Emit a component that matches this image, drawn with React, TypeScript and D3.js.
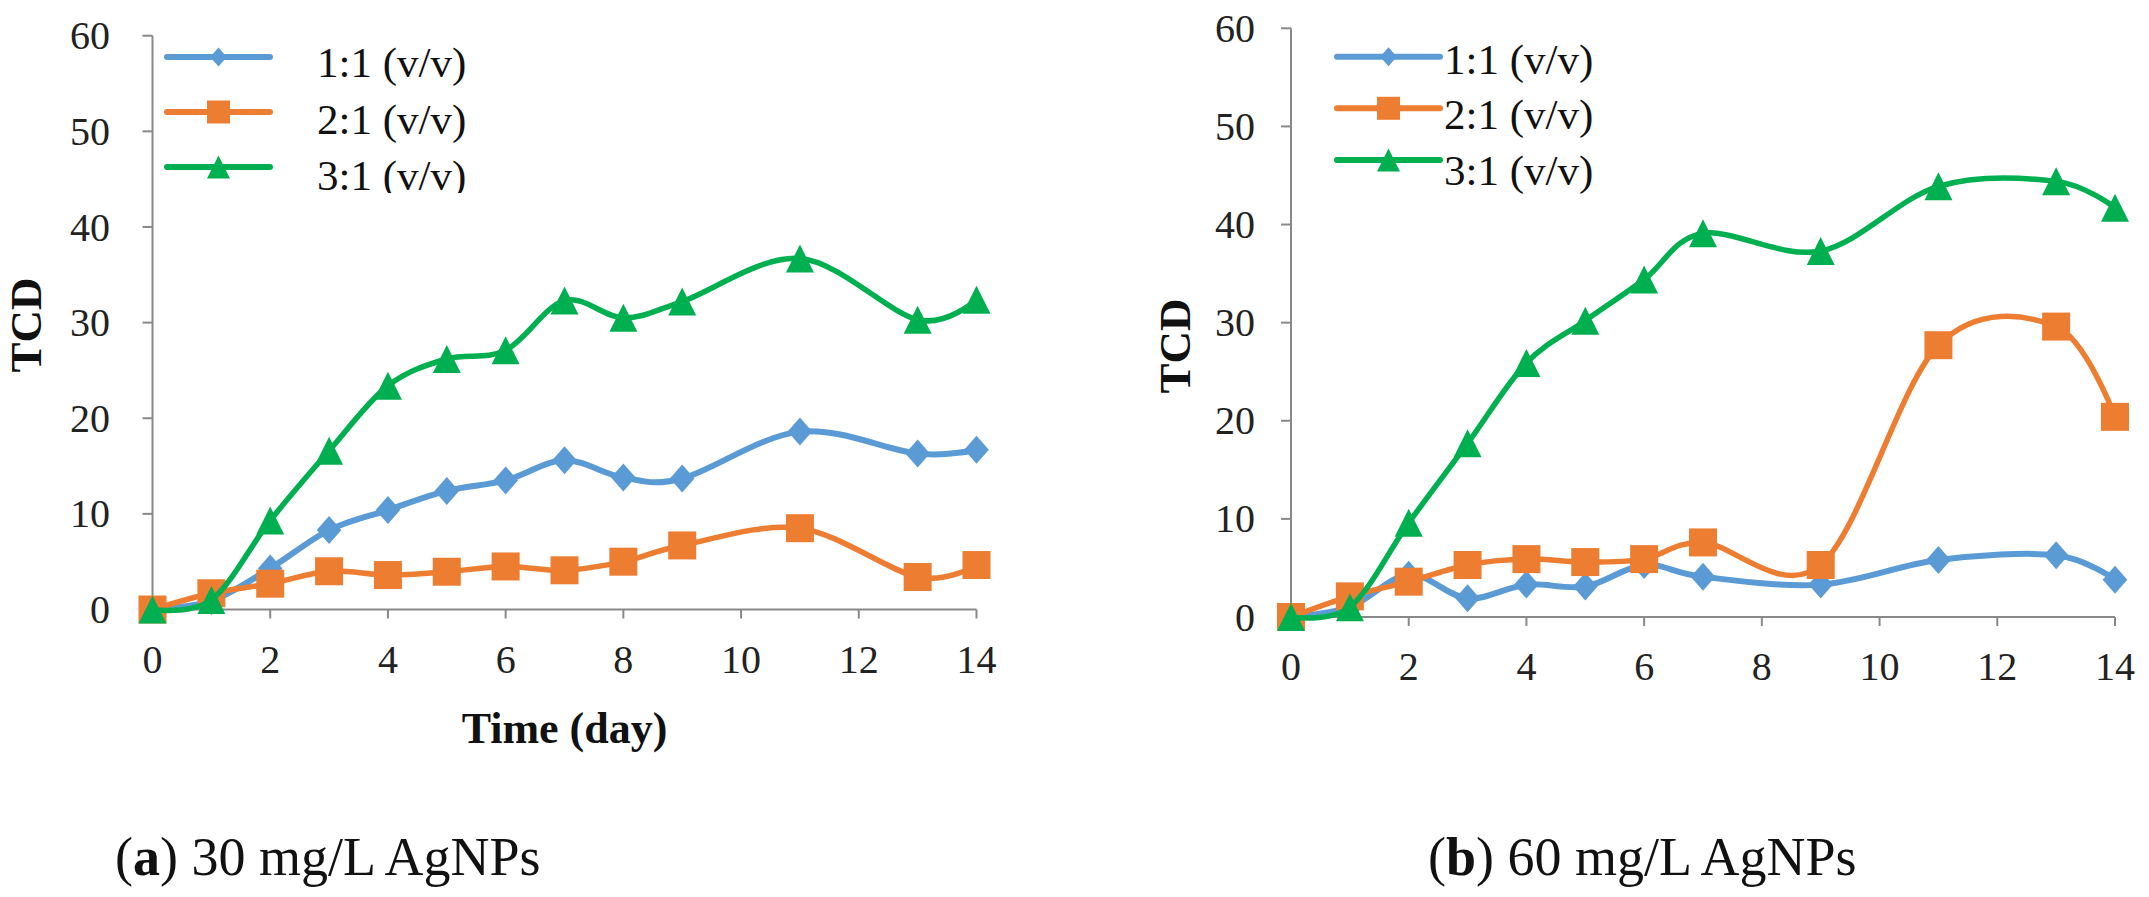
import React from "react";
import * as d3 from "d3";

// ---- data ----
const daysA = [0, 1, 2, 3, 4, 5, 6, 7, 8, 9, 11, 13, 14];
const a_1to1 = [0, 0.9, 4.3, 8.3, 10.4, 12.4, 13.5, 15.6, 13.8, 13.7, 18.6, 16.3, 16.7];
const a_2to1 = [0, 1.7, 2.7, 4.0, 3.6, 3.95, 4.5, 4.1, 5.0, 6.7, 8.5, 3.4, 4.65];
const a_3to1 = [0, 1.0, 9.3, 16.6, 23.4, 26.2, 27.1, 32.3, 30.5, 32.2, 36.7, 30.3, 32.4];

const daysB = [0, 1, 2, 3, 4, 5, 6, 7, 9, 11, 13, 14];
const b_1to1 = [0, 1.0, 4.3, 1.9, 3.3, 3.1, 5.3, 4.1, 3.3, 5.8, 6.3, 3.8];
const b_2to1 = [0, 2.1, 3.6, 5.3, 5.9, 5.6, 5.9, 7.6, 5.3, 27.7, 29.6, 20.4];
const b_3to1 = [0, 1.0, 9.6, 17.7, 25.9, 30.2, 34.4, 39.1, 37.3, 43.9, 44.4, 41.7];

const seriesNames = ["1:1 (v/v)", "2:1 (v/v)", "3:1 (v/v)"];
const xTicks = [0, 2, 4, 6, 8, 10, 12, 14];
const yTicks = [0, 10, 20, 30, 40, 50, 60];

const COLORS = ["#5B9BD5", "#ED7D31", "#00B050"];
const SHAPES = ["diamond", "square", "triangle"];
const AXIS = "#898989";
const FONT = "'Liberation Serif', 'Times New Roman', serif";

function markerPath(shape: string, x: number, y: number, s: number) {
  if (shape === "diamond") {
    const w = s * 0.44, h = s * 0.5;
    return `M${x},${y - h}L${x + w},${y}L${x},${y + h}L${x - w},${y}Z`;
  }
  if (shape === "square") {
    const h = s / 2;
    return `M${x - h},${y - h}H${x + h}V${y + h}H${x - h}Z`;
  }
  const h = s / 2;
  return `M${x},${y - h}L${x + h},${y + h}L${x - h},${y + h}Z`;
}

type PanelProps = {
  id: string;
  days: number[];
  series: number[][];
  x0: number; x1: number; y0: number; y1: number;
  yLabelRight: number;
  xLabelBaseline: number;
  tcdX: number; tcdY: number;
  legend: { lineX0: number; lineX1: number; textX: number; lineYs: number[]; textYs: number[]; clipY?: number };
  xTitle?: string;
  caption: { letter: string; rest: string; x: number; y: number };
};

function Panel(p: PanelProps) {
  const x = d3.scaleLinear().domain([0, 14]).range([p.x0, p.x1]);
  const y = d3.scaleLinear().domain([0, 60]).range([p.y0, p.y1]);
  const line = d3
    .line<[number, number]>()
    .x((d) => x(d[0]))
    .y((d) => y(d[1]))
    .curve(d3.curveCardinal.tension(0));
  const lw = [6, 5.5, 5.5];
  const legendMarker = [19, 23, 23];
  return (
    <g>
      {/* axes */}
      <line x1={p.x0} x2={p.x0} y1={y(0)} y2={y(60)} stroke={AXIS} strokeWidth={2} />
      <line x1={p.x0} x2={p.x1} y1={y(0)} y2={y(0)} stroke={AXIS} strokeWidth={2} />
      {yTicks.map((t) => (
        <g key={"y" + t}>
          <line x1={p.x0 - 10} x2={p.x0} y1={y(t)} y2={y(t)} stroke={AXIS} strokeWidth={2} />
          <text x={p.yLabelRight} y={y(t)} dy="0.34em" textAnchor="end" fontFamily={FONT} fontSize={40} fill="#222">
            {t}
          </text>
        </g>
      ))}
      {xTicks.map((t) => (
        <g key={"x" + t}>
          <line x1={x(t)} x2={x(t)} y1={y(0)} y2={y(0) + 9} stroke={AXIS} strokeWidth={2} />
          <text x={x(t)} y={p.xLabelBaseline} textAnchor="middle" fontFamily={FONT} fontSize={40} fill="#222">
            {t}
          </text>
        </g>
      ))}
      <text
        transform={`translate(${p.tcdX},${p.tcdY}) rotate(-90)`}
        textAnchor="middle"
        dy="0.34em"
        fontFamily={FONT}
        fontWeight="bold"
        fontSize={45}
        fill="#111"
      >
        TCD
      </text>
      {p.xTitle && (
        <text x={(p.x0 + p.x1) / 2} y={743} textAnchor="middle" fontFamily={FONT} fontWeight="bold" fontSize={44} fill="#111">
          {p.xTitle}
        </text>
      )}
      {/* series */}
      {p.series.map((vals, si) => {
        const pts: [number, number][] = p.days.map((d, i) => [d, vals[i]]);
        return (
          <g key={"s" + si}>
            <path d={line(pts) || ""} fill="none" stroke={COLORS[si]} strokeWidth={lw[si]} strokeLinejoin="round" strokeLinecap="round" />
            {pts.map((pt, i) => (
              <path key={i} d={markerPath(SHAPES[si], x(pt[0]), y(pt[1]), 28)} fill={COLORS[si]} />
            ))}
          </g>
        );
      })}
      {/* legend */}
      <defs>
        <clipPath id={p.id + "-clip"}>
          <rect x={0} y={0} width={3000} height={p.legend.clipY ?? 2000} />
        </clipPath>
      </defs>
      <g clipPath={`url(#${p.id}-clip)`}>
        {seriesNames.map((name, si) => {
          const ly = p.legend.lineYs[si];
          const mx = (p.legend.lineX0 + p.legend.lineX1) / 2;
          return (
            <g key={"l" + si}>
              <line x1={p.legend.lineX0} x2={p.legend.lineX1} y1={ly} y2={ly} stroke={COLORS[si]} strokeWidth={6} strokeLinecap="round" />
              <path d={markerPath(SHAPES[si], mx, ly, legendMarker[si])} fill={COLORS[si]} />
              <text x={p.legend.textX} y={p.legend.textYs[si]} fontFamily={FONT} fontSize={43} fill="#111">
                {name}
              </text>
            </g>
          );
        })}
      </g>
      {/* caption */}
      <text x={p.caption.x} y={p.caption.y} fontFamily={FONT} fontSize={54} fill="#111">
        (<tspan fontWeight="bold">{p.caption.letter}</tspan>){p.caption.rest}
      </text>
    </g>
  );
}

export default function App() {
  return (
    <svg
      width={2149}
      height={897}
      viewBox="0 0 2149 897"
      style={{ position: "absolute", left: 0, top: 0, background: "#fff" }}
    >
      <rect x={0} y={0} width={2149} height={897} fill="#fff" />
      <Panel
        id="pa"
        days={daysA}
        series={[a_1to1, a_2to1, a_3to1]}
        x0={152.5}
        x1={976.5}
        y0={609.5}
        y1={35.7}
        yLabelRight={110}
        xLabelBaseline={673}
        tcdX={26}
        tcdY={325}
        legend={{ lineX0: 167, lineX1: 270, textX: 317, lineYs: [57, 112, 167], textYs: [77, 134, 190], clipY: 193 }}
        xTitle="Time (day)"
        caption={{ letter: "a", rest: " 30 mg/L AgNPs", x: 115, y: 875 }}
      />
      <Panel
        id="pb"
        days={daysB}
        series={[b_1to1, b_2to1, b_3to1]}
        x0={1291}
        x1={2115}
        y0={617}
        y1={28.3}
        yLabelRight={1255}
        xLabelBaseline={680}
        tcdX={1175}
        tcdY={346}
        legend={{ lineX0: 1337, lineX1: 1440, textX: 1444, lineYs: [56.7, 108.3, 160], textYs: [74, 129, 185] }}
        caption={{ letter: "b", rest: " 60 mg/L AgNPs", x: 1428, y: 875 }}
      />
    </svg>
  );
}
